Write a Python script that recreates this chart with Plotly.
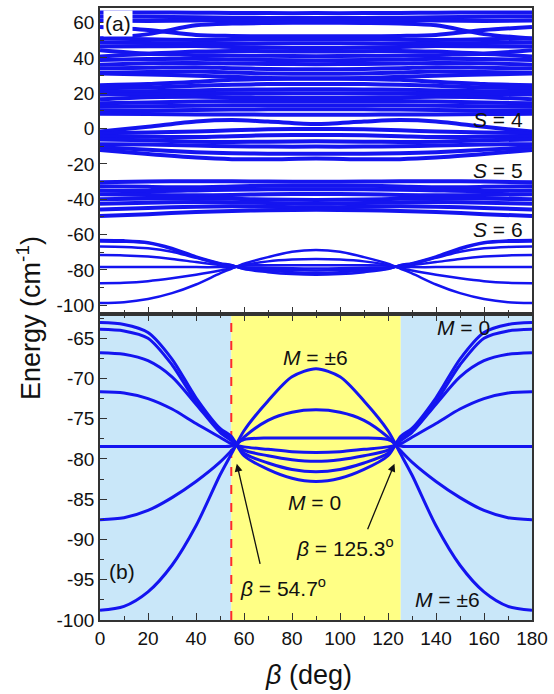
import plotly.graph_objects as go

# ---------------- data ----------------
# bottom panel (b) and S = 6 band of panel (a)
BETA = [0, 10, 20, 30, 40, 50, 54.7, 60, 70, 80, 90, 100, 110, 120, 125.3, 130, 140, 150, 160, 170, 180]
M0 = [-63.06, -63.3, -64.3, -67.6, -72.4, -76.2, -77.2, -79.6, -81.3, -82.4, -82.8, -82.4, -81.3, -79.6, -77.2, -76.2, -72.4, -67.6, -64.3, -63.3, -63.06]
M1 = [-63.9, -64.1, -65.0, -68.3, -72.9, -76.5, -77.4, -79.3, -80.5, -81.3, -81.6, -81.3, -80.5, -79.3, -77.4, -76.5, -72.9, -68.3, -65.0, -64.1, -63.9]
M2 = [-66.8, -67.0, -67.8, -69.8, -73.2, -76.7, -77.7, -78.9, -79.6, -80.1, -80.3, -80.1, -79.6, -78.9, -77.7, -76.7, -73.2, -69.8, -67.8, -67.0, -66.8]
M3 = [-71.65, -71.8, -72.5, -73.8, -75.6, -77.3, -78.1, -78.5, -78.8, -79.1, -79.2, -79.1, -78.8, -78.5, -78.1, -77.3, -75.6, -73.8, -72.5, -71.8, -71.65]
M4 = [-78.45, -78.45, -78.45, -78.45, -78.45, -78.45, -78.4, -77.6, -77.4, -77.4, -77.4, -77.4, -77.4, -77.6, -78.4, -78.45, -78.45, -78.45, -78.45, -78.45, -78.45]
M5 = [-87.54, -87.3, -86.4, -84.8, -82.8, -80.4, -79.0, -77.3, -75.2, -74.2, -73.9, -74.2, -75.2, -77.3, -79.0, -80.4, -82.8, -84.8, -86.4, -87.3, -87.54]
M6 = [-98.8, -98.3, -96.5, -93.2, -88.3, -82.0, -79.4, -76.5, -72.8, -69.8, -68.8, -69.8, -72.8, -76.5, -79.4, -82.0, -88.3, -93.2, -96.5, -98.3, -98.8]
S6_LEVELS = [M0, M1, M2, M3, M4, M5, M6]

# upper multiplets of panel (a)
BETA_TOP = [0, 20, 40, 55, 70, 90, 110, 125, 140, 160, 180]
BAND_A = [
    [65.8, 65.8, 65.6, 65.5, 65.4, 65.4, 65.4, 65.5, 65.6, 65.8, 65.8],
    [63.5, 63.4, 63.0, 62.8, 62.7, 62.6, 62.7, 62.8, 63.0, 63.4, 63.5],
    [61.2, 61.0, 61.2, 61.4, 61.6, 61.7, 61.6, 61.4, 61.2, 61.0, 61.2],
    [57.5, 55.8, 53.0, 52.5, 52.3, 52.3, 52.3, 52.5, 53.0, 55.8, 57.5],
    [51.0, 53.5, 58.5, 59.5, 59.8, 60.0, 59.8, 59.5, 58.5, 53.5, 51.0],
]
BAND_B = [
    [51.0, 50.6, 50.2, 50.3, 50.5, 50.6, 50.5, 50.3, 50.2, 50.6, 51.0],
    [48.8, 48.5, 48.2, 48.0, 48.2, 48.4, 48.2, 48.0, 48.2, 48.5, 48.8],
    [46.5, 46.6, 46.8, 46.2, 45.8, 45.6, 45.8, 46.2, 46.8, 46.6, 46.5],
    [44.4, 42.6, 43.6, 44.0, 43.8, 43.6, 43.8, 44.0, 43.6, 42.6, 44.4],
    [40.8, 42.3, 41.6, 41.4, 41.2, 41.0, 41.2, 41.4, 41.6, 42.3, 40.8],
    [38.9, 39.4, 39.6, 39.2, 38.8, 38.6, 38.8, 39.2, 39.6, 39.4, 38.9],
    [36.2, 37.0, 37.2, 36.8, 36.6, 36.5, 36.6, 36.8, 37.2, 37.0, 36.2],
    [34.0, 34.4, 34.8, 34.2, 33.8, 33.6, 33.8, 34.2, 34.8, 34.4, 34.0],
    [31.5, 32.0, 32.3, 31.8, 31.2, 31.0, 31.2, 31.8, 32.3, 32.0, 31.5],
    [31.2, 30.6, 30.0, 29.3, 28.7, 28.5, 28.7, 29.3, 30.0, 30.6, 31.2],
]
BAND_C = [
    [24.6, 25.2, 26.5, 27.6, 28.1, 28.3, 28.1, 27.6, 26.5, 25.2, 24.6],
    [22.8, 23.3, 24.2, 24.8, 25.2, 25.3, 25.2, 24.8, 24.2, 23.3, 22.8],
    [20.8, 21.2, 21.6, 22.0, 22.2, 22.3, 22.2, 22.0, 21.6, 21.2, 20.8],
    [19.3, 19.5, 19.8, 20.0, 20.0, 20.0, 20.0, 20.0, 19.8, 19.5, 19.3],
    [16.6, 17.8, 18.0, 17.8, 17.6, 17.5, 17.6, 17.8, 18.0, 17.8, 16.6],
    [14.3, 14.8, 15.4, 15.6, 15.6, 15.6, 15.6, 15.6, 15.4, 14.8, 14.3],
    [12.4, 12.6, 13.0, 13.2, 13.2, 13.2, 13.2, 13.2, 13.0, 12.6, 12.4],
    [10.2, 10.3, 10.6, 10.8, 10.9, 11.0, 10.9, 10.8, 10.6, 10.3, 10.2],
    [8.4, 8.2, 8.0, 8.0, 7.9, 7.8, 7.9, 8.0, 8.0, 8.2, 8.4],
]
BAND_S4 = [
    [-1.7, 1.0, 4.0, 4.8, 4.0, 2.6, 4.0, 4.8, 4.0, 1.0, -1.7],
    [-2.6, -2.2, -1.6, -1.0, -0.4, -0.2, -0.4, -1.0, -1.6, -2.2, -2.6],
    [-4.2, -4.6, -4.8, -4.3, -3.8, -3.6, -3.8, -4.3, -4.8, -4.6, -4.2],
    [-6.2, -6.6, -7.4, -7.6, -7.4, -7.2, -7.4, -7.6, -7.4, -6.6, -6.2],
    [-8.8, -9.0, -9.6, -10.0, -10.2, -10.2, -10.2, -10.0, -9.6, -9.0, -8.8],
    [-10.6, -12.0, -13.4, -14.0, -14.2, -14.2, -14.2, -14.0, -13.4, -12.0, -10.6],
    [-12.1, -14.4, -16.4, -17.3, -17.4, -17.0, -17.4, -17.3, -16.4, -14.4, -12.1],
]
BAND_S5 = [
    [-30.4, -30.0, -29.8, -29.8, -30.0, -30.1, -30.0, -29.8, -29.8, -30.0, -30.4],
    [-32.6, -33.0, -33.2, -32.8, -32.4, -32.3, -32.4, -32.8, -33.2, -33.0, -32.6],
    [-35.0, -35.4, -35.0, -34.6, -34.4, -34.4, -34.4, -34.6, -35.0, -35.4, -35.0],
    [-37.2, -37.6, -37.8, -37.6, -37.2, -37.0, -37.2, -37.6, -37.8, -37.6, -37.2],
    [-40.0, -39.6, -39.6, -39.8, -40.2, -40.4, -40.2, -39.8, -39.6, -39.6, -40.0],
    [-42.6, -42.0, -41.6, -41.8, -42.2, -42.6, -42.2, -41.8, -41.6, -42.0, -42.6],
    [-45.8, -45.0, -44.2, -44.0, -44.2, -44.6, -44.2, -44.0, -44.2, -45.0, -45.8],
    [-49.5, -48.5, -47.2, -46.6, -46.2, -46.0, -46.2, -46.6, -47.2, -48.5, -49.5],
]
UPPER_BANDS = [BAND_A, BAND_B, BAND_C, BAND_S4, BAND_S5]

MAGIC_1 = 54.7
MAGIC_2 = 125.3
X_TICKS = [0, 20, 40, 60, 80, 100, 120, 140, 160, 180]
X_LABELS = ["0", "20", "40", "60", "80", "100", "120", "140", "160", "180"]
Y_TICKS_TOP = [60, 40, 20, 0, -20, -40, -60, -80, -100]
Y_LABELS_TOP = ["60", "40", "20", "0", "-20", "-40", "-60", "-80", "-100"]
Y_TICKS_BOT = [-65, -70, -75, -80, -85, -90, -95, -100]
Y_LABELS_BOT = ["-65", "-70", "-75", "-80", "-85", "-90", "-95", "-100"]

# ---------------- figure ----------------
BLUE = "#1414f0"
FONT = "Liberation Sans, Arial, sans-serif"
fig = go.Figure()

for band in UPPER_BANDS:
    for lvl in band:
        fig.add_trace(go.Scatter(x=BETA_TOP, y=lvl, mode="lines", xaxis="x", yaxis="y",
                                 line=dict(color=BLUE, width=4, shape="spline", smoothing=0.8),
                                 hoverinfo="skip", showlegend=False))
for lvl in S6_LEVELS:
    fig.add_trace(go.Scatter(x=BETA, y=lvl, mode="lines", xaxis="x", yaxis="y",
                             line=dict(color=BLUE, width=2.5, shape="spline", smoothing=0.8),
                             hoverinfo="skip", showlegend=False))
for lvl in S6_LEVELS:
    fig.add_trace(go.Scatter(x=BETA, y=lvl, mode="lines", xaxis="x2", yaxis="y2",
                             line=dict(color=BLUE, width=3, shape="spline", smoothing=0.8),
                             hoverinfo="skip", showlegend=False))

axis_common = dict(showline=True, linecolor="#333", linewidth=1.5,
                   ticks="inside", tickcolor="#333", ticklen=7, tickwidth=1.2,
                   showgrid=False, zeroline=False,
                   tickfont=dict(family=FONT, size=19, color="#111"))
minor_common = dict(ticks="inside", ticklen=4, tickcolor="#333", tickwidth=1.2, showgrid=False)

fig.update_layout(
    width=554, height=694,
    margin=dict(l=100, r=19, t=6, b=74),
    plot_bgcolor="white", paper_bgcolor="white",
    xaxis=dict(axis_common, mirror=True, domain=[0, 1], anchor="y", range=[0, 180],
               tickvals=X_TICKS, showticklabels=False, minor=dict(minor_common, dtick=10)),
    yaxis=dict(axis_common, mirror=True, domain=[0.5, 1], anchor="x", range=[-105, 68.3],
               tickvals=Y_TICKS_TOP, ticktext=Y_LABELS_TOP, minor=dict(minor_common, dtick=10)),
    xaxis2=dict(axis_common, mirror="ticks", domain=[0, 1], anchor="y2", range=[0, 180],
                tickvals=X_TICKS, ticktext=X_LABELS, minor=dict(minor_common, dtick=10)),
    yaxis2=dict(axis_common, mirror=True, domain=[0, 0.5], anchor="x2", range=[-100, -62.0],
                tickvals=Y_TICKS_BOT, ticktext=Y_LABELS_BOT, minor=dict(minor_common, dtick=2.5)),
)

# shaded regions of panel (b)
LIGHT_BLUE = "#c9e7f9"
YELLOW = "#ffff85"
for x0, x1, col in [(0, MAGIC_1, LIGHT_BLUE), (MAGIC_1, MAGIC_2, YELLOW), (MAGIC_2, 180, LIGHT_BLUE)]:
    fig.add_shape(type="rect", xref="x2", yref="y2 domain", x0=x0, x1=x1, y0=0, y1=1,
                  fillcolor=col, line=dict(width=0), layer="below")
fig.add_shape(type="line", xref="x2", yref="y2 domain", x0=MAGIC_1, x1=MAGIC_1, y0=0, y1=1,
              line=dict(color="#ff2a2a", width=2, dash="dash"), layer="below")

ann_font = dict(family=FONT, size=21, color="#111")
notes = [
    ("x", "y", 7.4, 59.3, "(a)", "center", "white"),
    ("x", "y", 177, 5.0, "<i>S</i> = 4", "right", None),
    ("x", "y", 177, -24.0, "<i>S</i> = 5", "right", None),
    ("x", "y", 177, -57.2, "<i>S</i> = 6", "right", None),
    ("x2", "y2", 9.1, -94.0, "(b)", "center", None),
    ("x2", "y2", 89.8, -67.4, "<i>M</i> = ±6", "center", None),
    ("x2", "y2", 151.4, -63.7, "<i>M</i> = 0", "center", None),
    ("x2", "y2", 89.4, -85.4, "<i>M</i> = 0", "center", None),
    ("x2", "y2", 102.2, -90.9, "<i>β</i> = 125.3<sup>o</sup>", "center", None),
    ("x2", "y2", 76.1, -95.9, "<i>β</i> = 54.7<sup>o</sup>", "center", None),
    ("x2", "y2", 144.8, -97.4, "<i>M</i> = ±6", "center", None),
]
for xr, yr, xv, yv, txt, anc, bg in notes:
    fig.add_annotation(xref=xr, yref=yr, x=xv, y=yv, text=txt, showarrow=False,
                       xanchor=anc, yanchor="middle", font=ann_font,
                       bgcolor=bg if bg else "rgba(0,0,0,0)", borderpad=1)

# arrows
for hx, hy, tx, ty in [(57.0, -80.6, 67.0, -93.4), (122.7, -80.6, 111.0, -89.1)]:
    fig.add_annotation(xref="x2", yref="y2", axref="x2", ayref="y2", x=hx, y=hy, ax=tx, ay=ty,
                       text=" ", showarrow=True, arrowhead=2, arrowsize=1.2, arrowwidth=1.3,
                       arrowcolor="#111", font=dict(size=2))

# axis titles
fig.add_annotation(xref="paper", yref="paper", x=-0.166, y=0.494, text="Energy (cm<sup>-1</sup>)",
                   textangle=-90, showarrow=False, xanchor="center", yanchor="middle",
                   font=dict(family=FONT, size=27, color="#111"))
fig.add_annotation(xref="paper", yref="paper", x=0.483, y=-0.09, text="<i>β</i> (deg)",
                   showarrow=False, xanchor="center", yanchor="middle",
                   font=dict(family=FONT, size=27, color="#111"))

fig.write_html("out.html", config={"displayModeBar": False},
               post_script="document.body.style.margin='0';")
